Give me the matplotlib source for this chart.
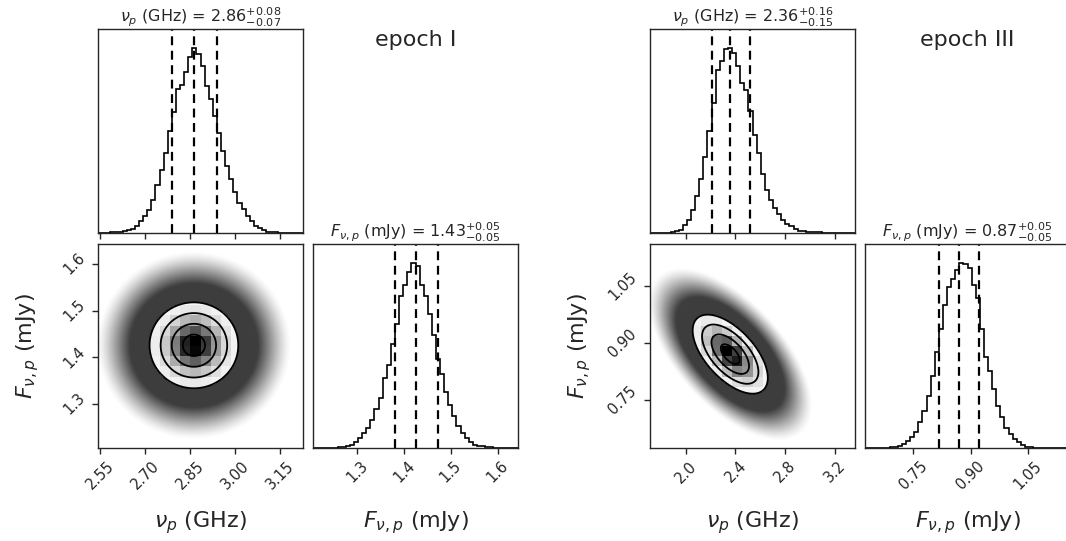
import numpy as np
import matplotlib
matplotlib.use("Agg")
import matplotlib.pyplot as plt
from matplotlib.colors import LinearSegmentedColormap

# ---------------- data ----------------
# epoch I
nu1_range = (2.543, 3.227)
f1_range = (1.206, 1.643)
nu1_q = [2.791, 2.863, 2.939]      # 16 / 50 / 84 per cent
f1_q = [1.380, 1.426, 1.472]
nu1_title = ("2.86", "0.07", "0.08")
f1_title = ("1.43", "0.05", "0.05")
rho1 = 0.0
nu1_counts = [0, 1, 2, 3, 5, 7, 10, 15, 22, 40, 63, 90, 126, 180, 260, 340, 430,
              550, 650, 775, 800, 870, 950, 1000, 966, 900, 790, 720, 630, 540,
              440, 360, 290, 220, 160, 130, 90, 63, 40, 25, 14, 7, 5, 3, 2, 1, 1,
              0, 0, 0]
f1_counts = [0, 0, 0, 1, 1, 2, 3, 5, 9, 18, 32, 54, 81, 108, 153, 210, 270, 380,
             450, 560, 670, 820, 880, 950, 1000, 980, 880, 820, 720, 610, 480,
             400, 300, 230, 170, 117, 81, 54, 32, 18, 12, 9, 5, 3, 2, 1, 1, 0, 0, 0]
nu1_ticks = [2.55, 2.70, 2.85, 3.00, 3.15]
nu1_ticklabels = ["2.55", "2.70", "2.85", "3.00", "3.15"]
f1_ticks = [1.3, 1.4, 1.5, 1.6]
f1_ticklabels = ["1.3", "1.4", "1.5", "1.6"]

# epoch III
nu3_range = (1.713, 3.361)
f3_range = (0.623, 1.160)
nu3_q = [2.214, 2.358, 2.516]
f3_q = [0.818, 0.870, 0.922]
nu3_title = ("2.36", "0.15", "0.16")
f3_title = ("0.87", "0.05", "0.05")
rho3 = -0.6
nu3_counts = [0, 0, 0, 1, 2, 4, 9, 18, 45, 72, 126, 200, 290, 410, 550, 700, 880,
              930, 990, 1000, 970, 900, 810, 770, 660, 530, 430, 320, 230, 180,
              135, 100, 72, 50, 36, 22, 13, 10, 7, 5, 4, 3, 2, 1, 1, 1, 0, 0, 0, 0]
f3_counts = [0, 0, 0, 1, 1, 2, 4, 7, 11, 21, 36, 57, 84, 140, 200, 280, 390, 520,
             640, 770, 870, 910, 960, 1000, 990, 970, 880, 810, 640, 490, 415,
             317, 227, 165, 110, 75, 48, 30, 16, 7, 4, 2, 1, 1, 0, 0, 0, 0, 0, 0]
nu3_ticks = [2.0, 2.4, 2.8, 3.2]
nu3_ticklabels = ["2.0", "2.4", "2.8", "3.2"]
f3_ticks = [0.75, 0.90, 1.05]
f3_ticklabels = ["0.75", "0.90", "1.05"]

nu_label = r"$\nu_p$ (GHz)"
f_label = r"$F_{\nu,p}$ (mJy)"

# ---------------- drawing ----------------
plt.rcParams['font.family'] = ['DejaVu Sans']
ink = '0.15'
fig = plt.figure(figsize=(10.66, 5.41), dpi=100)
W, H = 1066.0, 541.0


def px_axes(l, t, r, b):
    return fig.add_axes([l / W, 1 - b / H, (r - l) / W, (b - t) / H])


def style(ax):
    for s in ax.spines.values():
        s.set_color(ink)
        s.set_linewidth(1.0)
    ax.tick_params(direction='out', length=4, width=1, colors=ink,
                   labelsize=10.5, labelcolor=ink)


def title_str(name, t):
    return name + " = $%s_{-%s}^{+%s}$" % t


def gauss(X, Y, c, s, rho):
    dx = (X - c[0]) / s[0]
    dy = (Y - c[1]) / s[1]
    return np.exp(-0.5 * (dx * dx - 2 * rho * dx * dy + dy * dy) / (1 - rho ** 2))


def hist_panel(ax, counts, rng, q, ticks, ticklabels, show_labels, title):
    edges = np.linspace(rng[0], rng[1], len(counts) + 1)
    ax.stairs(counts, edges, color='k', lw=1.2)
    for v in q:
        ax.axvline(v, color='k', ls='--', lw=1.6, dashes=(4, 2.5))
    ax.set_xlim(rng)
    ax.set_ylim(0, 1.1 * max(counts))
    ax.set_yticks([])
    ax.set_xticks(ticks)
    if show_labels:
        ax.set_xticklabels(ticklabels, rotation=45)
    else:
        ax.set_xticklabels([])
    ax.set_title(title, fontsize=11.5, color=ink, pad=4)
    style(ax)


density_cmap = LinearSegmentedColormap.from_list("density_cmap", [(0, 0, 0, 1), (1, 1, 1, 0)])


def panel_2d(ax, xr, yr, xq, yq, rho):
    c = (xq[1], yq[1])
    s = ((xq[2] - xq[0]) / 2, (yq[2] - yq[0]) / 2)
    xs = np.linspace(xr[0], xr[1], 500)
    ys = np.linspace(yr[0], yr[1], 500)
    X, Y = np.meshgrid(xs, ys)
    p = gauss(X, Y, c, s, rho)
    # cloud of samples outside the contours: saturated near the outer
    # contour, thinning out to nothing about 4.4 sigma away
    logp = np.log(np.maximum(p, 1e-30))
    d = np.clip((logp + 0.5 * 4.4 ** 2) / (0.5 * (4.4 ** 2 - 2.9 ** 2)), 0, 1)
    rgba = np.zeros(p.shape + (4,))
    rgba[..., :3] = 0.24
    rgba[..., 3] = d ** 1.5
    ax.imshow(rgba, extent=[xr[0], xr[1], yr[0], yr[1]], origin='lower',
              aspect='auto', zorder=1, interpolation='bilinear')
    levels = np.exp(-0.5 * np.array([2.0, 1.5, 1.0, 0.5]) ** 2)
    cf = ax.contourf(X, Y, p, [levels[0], 2.0], colors='white', zorder=2)
    ex = np.linspace(xr[0], xr[1], 21)
    ey = np.linspace(yr[0], yr[1], 21)
    CX, CY = np.meshgrid(0.5 * (ex[1:] + ex[:-1]), 0.5 * (ey[1:] + ey[:-1]))
    Hb = gauss(CX, CY, c, s, rho)
    mesh = ax.pcolormesh(ex, ey, Hb.max() - Hb, cmap=density_cmap, zorder=3,
                         vmin=0, vmax=Hb.max() * 1.08)
    mesh.set_clip_path(cf.get_paths()[0], transform=ax.transData)
    ax.contour(X, Y, p, levels, colors='k', linewidths=1.3, zorder=4)
    ax.set_xlim(xr)
    ax.set_ylim(yr)


def corner(x_left, nu_range, f_range, nu_q, f_q, rho, nu_counts, f_counts,
           nu_ticks, nu_tl, f_ticks, f_tl, nu_t, f_t, epoch):
    c1 = (x_left, x_left + 205)
    c2 = (x_left + 215, x_left + 420)
    r1 = (29, 233)
    r2 = (244, 448)

    ax_top = px_axes(c1[0], r1[0], c1[1], r1[1])
    hist_panel(ax_top, nu_counts, nu_range, nu_q, nu_ticks, nu_tl, False,
               title_str(nu_label, nu_t))

    ax_2d = px_axes(c1[0], r2[0], c1[1], r2[1])
    panel_2d(ax_2d, nu_range, f_range, nu_q, f_q, rho)
    ax_2d.set_xticks(nu_ticks)
    ax_2d.set_xticklabels(nu_tl, rotation=45)
    ax_2d.set_yticks(f_ticks)
    ax_2d.set_yticklabels(f_tl, rotation=45, va='center')
    ax_2d.set_xlabel(nu_label, fontsize=16, color=ink)
    ax_2d.xaxis.set_label_coords(0.5, -0.3)
    ax_2d.set_ylabel(f_label, fontsize=16, color=ink)
    ax_2d.yaxis.set_label_coords(-0.28, 0.5)
    style(ax_2d)

    ax_f = px_axes(c2[0], r2[0], c2[1], r2[1])
    hist_panel(ax_f, f_counts, f_range, f_q, f_ticks, f_tl, True,
               title_str(f_label, f_t))
    ax_f.set_xlabel(f_label, fontsize=16, color=ink)
    ax_f.xaxis.set_label_coords(0.5, -0.3)

    fig.text((c2[0] + c2[1]) / 2 / W, 1 - 40 / H, epoch, ha='center',
             va='center', fontsize=16, color=ink)


corner(98, nu1_range, f1_range, nu1_q, f1_q, rho1, nu1_counts, f1_counts,
       nu1_ticks, nu1_ticklabels, f1_ticks, f1_ticklabels, nu1_title, f1_title,
       "epoch I")
corner(650, nu3_range, f3_range, nu3_q, f3_q, rho3, nu3_counts, f3_counts,
       nu3_ticks, nu3_ticklabels, f3_ticks, f3_ticklabels, nu3_title, f3_title,
       "epoch III")

fig.savefig("out.png", dpi=100)
